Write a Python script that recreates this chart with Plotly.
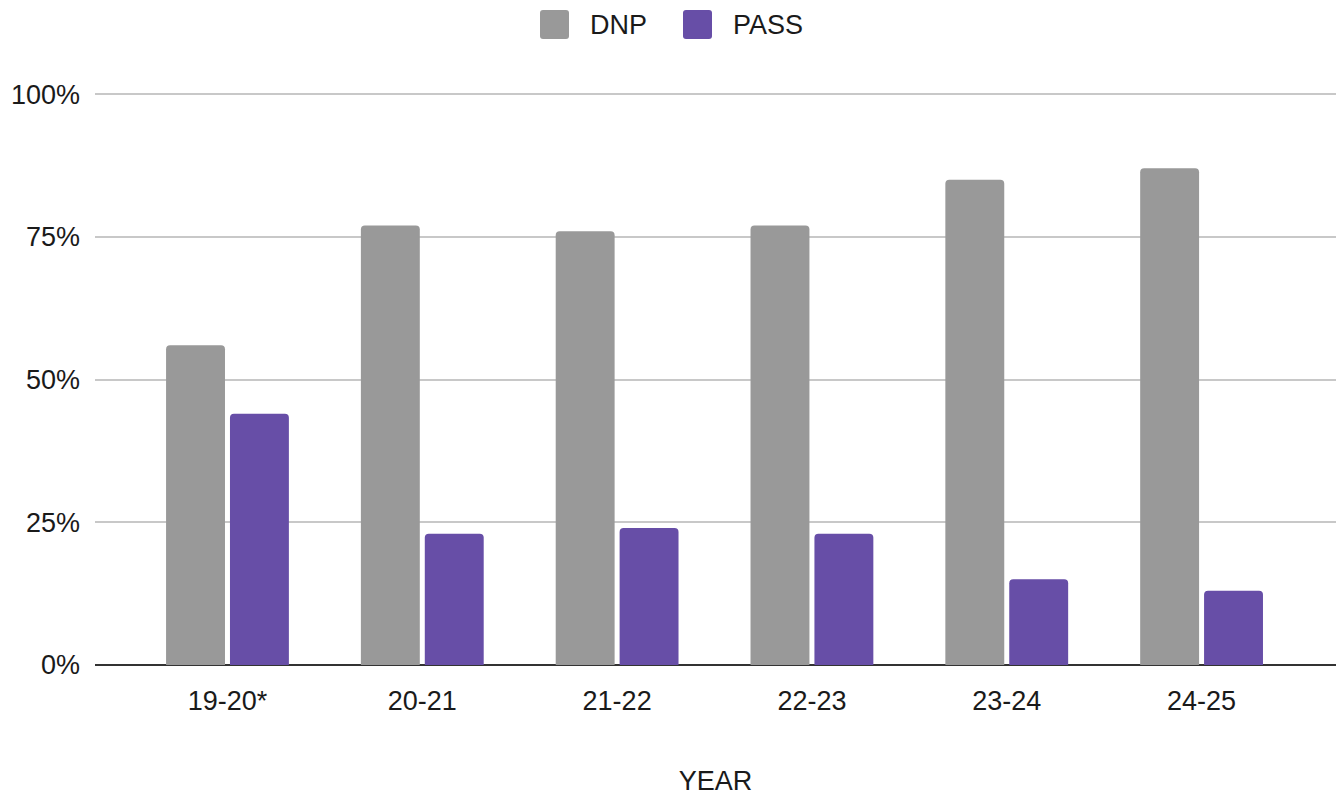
import plotly.graph_objects as go

years = ["19-20*", "20-21", "21-22", "22-23", "23-24", "24-25"]
dnp = [0.56, 0.77, 0.76, 0.77, 0.85, 0.87]
passed = [0.44, 0.23, 0.24, 0.23, 0.15, 0.13]
y_ticks = [0, 0.25, 0.5, 0.75, 1.0]
y_tick_text = ["0%", "25%", "50%", "75%", "100%"]

GRAY = "#999999"
PURPLE = "#674ea7"
FONT = "Liberation Sans, Arial, sans-serif"
TEXT = "#1a1a1a"
FS = 27

fig = go.Figure()
fig.add_trace(go.Bar(name="DNP", x=years, y=dnp, marker=dict(color=GRAY, line_width=0),
                     showlegend=False))
fig.add_trace(go.Bar(name="PASS", x=years, y=passed, marker=dict(color=PURPLE, line_width=0),
                     showlegend=False))

W, H = 1343, 798
ml, mr, mt, mb = 95, 7, 93, 133
pw, ph = W - ml - mr, H - mt - mb


def px_to_paper(x, y):
    return (x - ml) / pw, (H - mb - y) / ph


# legend drawn as rounded swatches + labels above the plot
shapes = []
annotations = []
for name, color, sx, tx in [("DNP", GRAY, 540, 588), ("PASS", PURPLE, 683, 731)]:
    x0, y1 = px_to_paper(sx, 10)
    x1, y0 = px_to_paper(sx + 29, 39)
    rx = 3 / pw
    ry = 3 / ph
    path = (f"M{x0+rx},{y0} L{x1-rx},{y0} Q{x1},{y0} {x1},{y0+ry} L{x1},{y1-ry} "
            f"Q{x1},{y1} {x1-rx},{y1} L{x0+rx},{y1} Q{x0},{y1} {x0},{y1-ry} "
            f"L{x0},{y0+ry} Q{x0},{y0} {x0+rx},{y0} Z")
    shapes.append(dict(type="path", path=path, xref="paper", yref="paper",
                       fillcolor=color, line_width=0, layer="above"))
    ax, ay = px_to_paper(tx, 25)
    annotations.append(dict(text=name, x=ax, y=ay, xref="paper", yref="paper",
                            xanchor="left", yanchor="middle", showarrow=False,
                            font=dict(family=FONT, size=FS, color=TEXT)))

fig.update_layout(
    width=W, height=H,
    margin=dict(l=ml, r=mr, t=mt, b=mb),
    paper_bgcolor="white", plot_bgcolor="white",
    barmode="group", bargap=0.344, bargroupgap=0.078,
    barcornerradius=4,
    font=dict(family=FONT, size=FS, color=TEXT),
    shapes=shapes, annotations=annotations,
    xaxis=dict(
        range=[-0.68, 5.69], showgrid=False, showline=False, ticks="",
        ticklabelstandoff=17,
        title=dict(text="YEAR", standoff=56, font=dict(family=FONT, size=FS, color=TEXT)),
        tickfont=dict(family=FONT, size=FS, color=TEXT),
    ),
    yaxis=dict(
        range=[0, 1.002], tickvals=y_ticks, ticktext=y_tick_text,
        showgrid=True, gridcolor="#c8c8c8", gridwidth=2,
        zeroline=True, zerolinecolor="#333333", zerolinewidth=2,
        showline=False, ticks="", ticklabelstandoff=14,
        tickfont=dict(family=FONT, size=FS, color=TEXT),
    ),
)

fig.write_html("out.html")
